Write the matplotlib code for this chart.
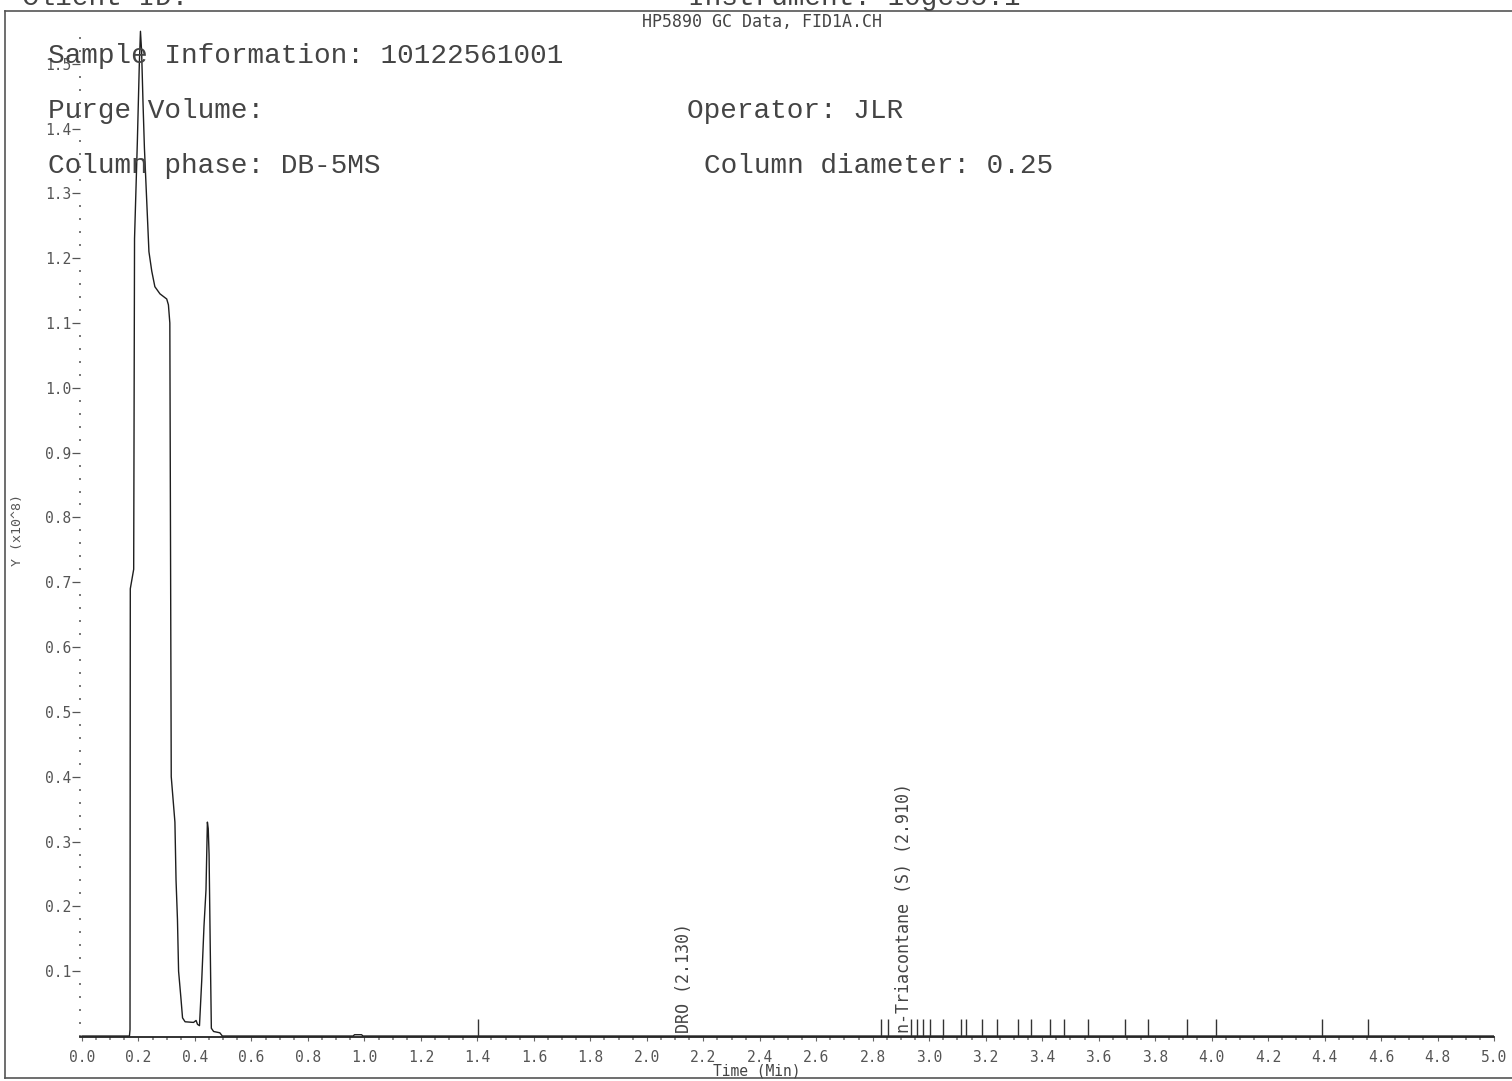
import matplotlib
matplotlib.use("Agg")
import matplotlib.pyplot as plt
from matplotlib.lines import Line2D
from matplotlib.ticker import FixedLocator, MultipleLocator, FormatStrFormatter
import numpy as np

W, H = 1512, 1081

# FID trace, time in minutes, response in units of 10^8
time_min = [0.000, 0.168, 0.170, 0.171, 0.183, 0.186, 0.196, 0.203, 0.207,
            0.211, 0.216, 0.221, 0.230, 0.237, 0.247, 0.258, 0.276, 0.300,
            0.306, 0.311, 0.316, 0.329, 0.333, 0.338, 0.342, 0.350, 0.356,
            0.365, 0.395, 0.404, 0.409, 0.416, 0.424, 0.432, 0.439, 0.444,
            0.447, 0.450, 0.454, 0.458, 0.466, 0.488, 0.497, 0.960, 0.965,
            0.990, 0.995, 5.000]
response = [0.000, 0.000, 0.010, 0.690, 0.720, 1.230, 1.380, 1.500, 1.550,
            1.520, 1.440, 1.370, 1.280, 1.210, 1.180, 1.156, 1.145, 1.137,
            1.128, 1.100, 0.400, 0.330, 0.240, 0.180, 0.100, 0.060, 0.028,
            0.022, 0.021, 0.024, 0.018, 0.016, 0.086, 0.170, 0.225, 0.330,
            0.320, 0.280, 0.140, 0.012, 0.007, 0.005, 0.000, 0.000, 0.002,
            0.002, 0.000, 0.000]

# integration / window marks along the baseline
mark_times = [1.403, 2.830, 2.854, 2.937, 2.958, 2.978, 3.002, 3.048, 3.112,
              3.132, 3.186, 3.239, 3.316, 3.360, 3.428, 3.478, 3.564, 3.693,
              3.776, 3.912, 4.014, 4.392, 4.555]

peak_names = ["DRO", "n-Triacontane (S)"]
peak_times = [2.130, 2.910]

header_left = [("Sample Information: 10122561001", 48, 63),
               ("Purge Volume:", 48, 118),
               ("Column phase: DB-5MS", 48, 173)]
header_right = [("Operator: JLR", 687, 118),
                ("Column diameter: 0.25", 704, 173)]


def fx(x):
    return x / W


def fy(y):
    return 1 - y / H


fig = plt.figure(figsize=(W / 100, H / 100), dpi=100)
fig.patch.set_facecolor("white")

ax = fig.add_axes([fx(80), fy(1037), fx(1494) - fx(80), fy(30) - fy(1037)])
ax.set_xlim(-0.0071, 5.0)
ax.set_ylim(-0.0015, 1.552)

ax.plot(time_min, response, color="#1e1e1e", lw=1.0)
ax.vlines(mark_times, 0, 0.027, color="#333333", lw=1.0)

for name, t in zip(peak_names, peak_times):
    ax.text(t, 0.005, f"{name} ({t:.3f})", rotation=90, ha="center", va="bottom",
            fontsize=12, family="DejaVu Sans Mono", color="#444444")

for s in ["top", "right", "left"]:
    ax.spines[s].set_visible(False)
ax.spines["bottom"].set_color("#222222")
ax.spines["bottom"].set_linewidth(1.3)

ax.xaxis.set_major_locator(MultipleLocator(0.2))
ax.xaxis.set_minor_locator(MultipleLocator(0.05))
ax.xaxis.set_major_formatter(FormatStrFormatter("%.1f"))
ax.yaxis.set_major_locator(FixedLocator(np.arange(1, 16) / 10))
ax.yaxis.set_minor_locator(MultipleLocator(0.02))
ax.yaxis.set_major_formatter(FormatStrFormatter("%.1f"))

ax.tick_params(axis="x", which="major", direction="out", length=3, width=0.8,
               color="#666666", pad=6, labelsize=10.5, labelcolor="#555555")
ax.tick_params(axis="x", which="minor", direction="out", length=1.8, width=1.3,
               color="#888888")
ax.tick_params(axis="y", which="major", direction="out", length=5.5, width=0.9,
               color="#555555", pad=1, labelsize=10.5, labelcolor="#555555")
ax.tick_params(axis="y", which="minor", direction="inout", length=1.8, width=1.4,
               color="#777777")
for lab in ax.get_xticklabels() + ax.get_yticklabels():
    lab.set_family("DejaVu Sans Mono")

fig.text(fx(757), fy(1071), "Time (Min)", fontsize=10.5, family="DejaVu Sans Mono",
         color="#444444", ha="center", va="center")
fig.text(fx(18), fy(530), "Y (x10^8)", rotation=90, ha="center", va="center",
         fontsize=9.5, family="DejaVu Sans Mono", color="#555555")

# page frame
frame = dict(color="#555555", lw=1.2, transform=fig.transFigure)
fig.add_artist(Line2D([fx(5), 1], [fy(11), fy(11)], **frame))
fig.add_artist(Line2D([fx(5), fx(5)], [fy(11), fy(1078)], **frame))
fig.add_artist(Line2D([fx(5), 1], [fy(1078), fy(1078)], **frame))

# report header, top line runs off the page
fig.text(fx(22), fy(5), "Client ID:", fontsize=20, family="Liberation Mono",
         color="#444444", va="baseline")
fig.text(fx(688), fy(5), "Instrument: 10gcs5.1", fontsize=20,
         family="Liberation Mono", color="#444444", va="baseline")
fig.text(fx(762), fy(22), "HP5890 GC Data, FID1A.CH", fontsize=12,
         family="DejaVu Sans Mono", color="#444444", ha="center", va="center")

for txt, x, y in header_left + header_right:
    fig.text(fx(x), fy(y), txt, fontsize=20, family="Liberation Mono",
             color="#444444", va="baseline")

fig.savefig("out.png", dpi=100)
